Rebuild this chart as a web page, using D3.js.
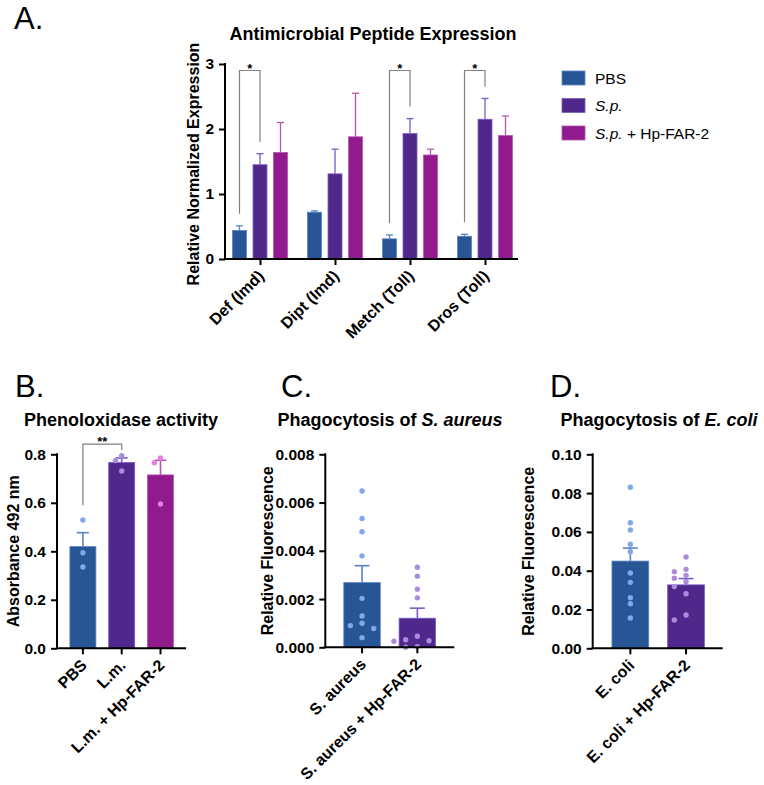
<!DOCTYPE html>
<html>
<head>
<meta charset="utf-8">
<script src="https://cdn.jsdelivr.net/npm/d3@7"></script>
<style>
body{margin:0;background:#fff;}
text{font-family:"Liberation Sans",Arial,Helvetica,sans-serif;}
</style>
</head>
<body>
<svg id="fig" width="764" height="785"></svg>
<script>
// ---- panel A data
var amp_groups = ["Def (Imd)", "Dipt (Imd)", "Metch (Toll)", "Dros (Toll)"];
var amp_series = ["PBS", "<i>S.p.</i>", "<i>S.p.</i> + Hp-FAR-2"];
var amp_pbs = [0.44, 0.72, 0.31, 0.35];
var amp_pbs_sem = [0.07, 0.02, 0.06, 0.03];
var amp_sp = [1.45, 1.31, 1.93, 2.15];
var amp_sp_sem = [0.17, 0.38, 0.23, 0.32];
var amp_far = [1.64, 1.88, 1.60, 1.90];
var amp_far_sem = [0.46, 0.67, 0.09, 0.30];
var amp_ticks = [0, 1, 2, 3];
var amp_sig = ["Def (Imd)", "Metch (Toll)", "Dros (Toll)"]; // PBS vs S.p., *

// ---- panel B data
var po_cats = ["PBS", "L.m.", "L.m. + Hp-FAR-2"];
var po_pbs = [0.529, 0.394, 0.335];
var po_lm = [0.794, 0.774, 0.731];
var po_far = [0.785, 0.765, 0.595];
var po_ticks = [0, 0.2, 0.4, 0.6, 0.8];

// ---- panel C data
var sa_cats = ["S. aureus", "S. aureus + Hp-FAR-2"];
var sa_ctrl = [0.00648, 0.00534, 0.00479, 0.00379, 0.00203, 0.00130, 0.00100, 0.00090, 0.00078, 0.00040];
var sa_far = [0.00332, 0.00295, 0.00241, 0.00205, 0.00046, 0.00031, 0.00027, 0.00025, 0.00003, 0.0];
var sa_ticks = [0, 0.002, 0.004, 0.006, 0.008];

// ---- panel D data
var ec_cats = ["E. coli", "E. coli + Hp-FAR-2"];
var ec_ctrl = [0.083, 0.0647, 0.061, 0.0536, 0.0498, 0.0388, 0.034, 0.0261, 0.023, 0.0156];
var ec_far = [0.0471, 0.0407, 0.0395, 0.0376, 0.0361, 0.0343, 0.0318, 0.0281, 0.0172, 0.0146];
var ec_ticks = [0, 0.02, 0.04, 0.06, 0.08, 0.10];

var fill_cols = ["#285596", "#50288c", "#911a8c"];
var err_cols = ["#5a84c6", "#7b5cc4", "#b456b0"];
var dot_cols = ["#80a7e6", "#a98cdc", "#e47fe0"];

var svg = d3.select("#fig");

// text with <i>..</i> parts
function rich_text(sel, str){
	str.split(/(<i>.*?<\/i>)/).forEach(function(part){
		if(!part) return;
		var it = part.indexOf("<i>") === 0;
		sel.append("tspan")
			.attr("font-style", it ? "italic" : null)
			.text(it ? part.slice(3, -4) : part);
	});
}

function sem(arr){
	return d3.deviation(arr) / Math.sqrt(arr.length);
}

function style_axis(g){
	g.selectAll("path.domain").remove();
	g.selectAll(".tick line").attr("stroke", "#000").attr("stroke-width", 2);
	g.selectAll(".tick text")
		.attr("font-size", 15.5).attr("font-weight", "bold").attr("fill", "#000");
}

function letter(txt, x, y){
	svg.append("text").attr("x", x).attr("y", y)
		.attr("font-size", 31).text(txt);
}

function ylabel(txt, x, yc){
	svg.append("text")
		.attr("transform", "translate(" + x + "," + yc + ") rotate(-90)")
		.attr("text-anchor", "middle")
		.attr("font-size", 16).attr("font-weight", "bold")
		.text(txt);
}

function xlabels(g, scale, cats, y0, offs){
	cats.forEach(function(c){
		var cx = scale(c) + (offs || 0);
		g.append("text")
			.attr("transform", "translate(" + (cx + 1) + "," + (y0 + 14) + ") rotate(-45)")
			.attr("text-anchor", "end")
			.attr("dy", "0.35em")
			.attr("font-size", 16).attr("font-weight", "bold")
			.text(c);
	});
}

function bracket(x1, x2, ytop, yl, yr, lab){
	svg.append("path")
		.attr("d", "M" + x1 + "," + yl + "V" + ytop + "H" + x2 + "V" + yr)
		.attr("fill", "none").attr("stroke", "#808080").attr("stroke-width", 1.2);
	svg.append("text").attr("x", (x1 + x2) / 2).attr("y", ytop + 2)
		.attr("text-anchor", "middle").attr("font-size", 13).attr("font-weight", "bold")
		.text(lab);
}

// ================= Panel A =================
(function(){
	var x0 = 225, x1 = 518;
	var y = d3.scaleLinear().domain([0, 3]).range([259, 64]);
	var gx = d3.scalePoint().domain(amp_groups).range([260, 485]);
	var inner = d3.scaleBand().domain(amp_series).range([-27.5, 27.5]).paddingInner(0.317);
	var means = [amp_pbs, amp_sp, amp_far];
	var sems = [amp_pbs_sem, amp_sp_sem, amp_far_sem];

	letter("A.", 14, 29);
	svg.append("text").attr("x", 373).attr("y", 40).attr("text-anchor", "middle")
		.attr("font-size", 18).attr("font-weight", "bold")
		.text("Antimicrobial Peptide Expression");

	var ya = svg.append("g").attr("transform", "translate(" + x0 + ",0)")
		.call(d3.axisLeft(y).tickValues(amp_ticks).tickSize(6).tickPadding(5).tickSizeOuter(0).tickFormat(d3.format("d")));
	style_axis(ya);
	ylabel("Relative Normalized Expression", 199, 164);

	amp_series.forEach(function(s, si){
		var g = svg.append("g");
		amp_groups.forEach(function(grp, gi){
			var bx = gx(grp) + inner(s);
			var cx = bx + inner.bandwidth() / 2;
			var top = y(means[si][gi] + sems[si][gi]);
			g.append("line").attr("x1", cx).attr("x2", cx)
				.attr("y1", y(means[si][gi])).attr("y2", top)
				.attr("stroke", err_cols[si]).attr("stroke-width", 1.3);
			g.append("line").attr("x1", cx - 3.5).attr("x2", cx + 3.5)
				.attr("y1", top).attr("y2", top)
				.attr("stroke", err_cols[si]).attr("stroke-width", 1.3);
			g.append("rect").attr("x", bx).attr("width", inner.bandwidth())
				.attr("y", y(means[si][gi])).attr("height", y(0) - y(means[si][gi]))
				.attr("fill", fill_cols[si]).attr("stroke", err_cols[si]).attr("stroke-width", 0.8);
		});
	});

	// x axis
	svg.append("line").attr("x1", x0 - 1).attr("x2", x1).attr("y1", y(0)).attr("y2", y(0))
		.attr("stroke", "#000").attr("stroke-width", 2);
	svg.append("line").attr("x1", x0).attr("x2", x0).attr("y1", y(3) - 1).attr("y2", y(0))
		.attr("stroke", "#000").attr("stroke-width", 2);
	var xa = svg.append("g").attr("transform", "translate(0," + y(0) + ")")
		.call(d3.axisBottom(gx).tickSize(6).tickSizeOuter(0).tickFormat(""));
	style_axis(xa);
	xlabels(svg.append("g"), gx, amp_groups, y(0));

	amp_sig.forEach(function(grp){
		var gi = amp_groups.indexOf(grp);
		var xa1 = gx(grp) + inner(amp_series[0]) + inner.bandwidth() / 2;
		var xa2 = gx(grp) + inner(amp_series[1]) + inner.bandwidth() / 2;
		bracket(xa1, xa2, y(2.9),
			y(amp_pbs[gi] + amp_pbs_sem[gi]) - 12,
			y(amp_sp[gi] + amp_sp_sem[gi]) - 12, "*");
	});

	// legend
	var lg = svg.append("g").attr("transform", "translate(562,71)");
	amp_series.forEach(function(s, i){
		var row = lg.append("g").attr("transform", "translate(0," + (i * 27.5) + ")");
		row.append("rect").attr("width", 23).attr("height", 14)
			.attr("fill", fill_cols[i]).attr("stroke", err_cols[i]).attr("stroke-width", 0.8);
		rich_text(row.append("text").attr("x", 33).attr("y", 12.5).attr("font-size", 15.5), s);
	});
})();

// ================= Panels B, C, D =================
function dot_panel(o){
	var y = d3.scaleLinear().domain([0, o.ymax]).range([o.y0, o.y1]);
	var x = d3.scaleBand().domain(o.cats).range(o.xr).paddingInner(o.pad).paddingOuter(o.pad / 2);
	var bw = x.bandwidth();

	letter(o.letter, o.lx, 397);
	rich_text(svg.append("text").attr("x", o.tx).attr("y", 426).attr("text-anchor", "middle")
		.attr("font-size", 18).attr("font-weight", "bold"), o.title);

	var ya = svg.append("g").attr("transform", "translate(" + o.x0 + ",0)")
		.call(d3.axisLeft(y).tickValues(o.ticks).tickSize(6).tickPadding(5).tickSizeOuter(0).tickFormat(d3.format(o.fmt)));
	style_axis(ya);
	ylabel(o.ylab, o.ylx, (o.y0 + o.y1) / 2);

	o.cats.forEach(function(c, i){
		var vals = o.dots[i];
		var m = d3.mean(vals), top = y(m + sem(vals));
		var cx = x(c) + bw / 2;
		svg.append("rect").attr("x", x(c)).attr("width", bw)
			.attr("y", y(m)).attr("height", y(0) - y(m))
			.attr("fill", fill_cols[i]).attr("stroke", err_cols[i]).attr("stroke-width", 0.8);
		svg.append("line").attr("x1", cx).attr("x2", cx).attr("y1", y(m)).attr("y2", top)
			.attr("stroke", err_cols[i]).attr("stroke-width", 1.6);
		svg.append("line").attr("x1", cx - o.cap).attr("x2", cx + o.cap).attr("y1", top).attr("y2", top)
			.attr("stroke", err_cols[i]).attr("stroke-width", 1.6);

		// simple column swarm for overlapping dots
		var placed = [];
		vals.slice().sort(d3.descending).forEach(function(v){
			var py = y(v), k, cand = [0, -1, 1, -2, 2];
			for(k = 0; k < cand.length; k++){
				var hit = placed.some(function(p){ return p.c === cand[k] && Math.abs(p.y - py) < 5.8; });
				if(!hit) break;
			}
			placed.push({c: cand[k], y: py});
			svg.append("circle").attr("cx", cx + cand[k] * o.step).attr("cy", py).attr("r", 2.7)
				.attr("fill", dot_cols[i]);
		});
	});

	svg.append("line").attr("x1", o.x0).attr("x2", o.x0).attr("y1", o.y1 - 1).attr("y2", o.y0)
		.attr("stroke", "#000").attr("stroke-width", 2);
	svg.append("line").attr("x1", o.x0 - 1).attr("x2", o.x1).attr("y1", o.y0).attr("y2", o.y0)
		.attr("stroke", "#000").attr("stroke-width", 2);
	var xa = svg.append("g").attr("transform", "translate(0," + o.y0 + ")")
		.call(d3.axisBottom(x).tickSize(6).tickSizeOuter(0).tickFormat(""));
	style_axis(xa);
	xlabels(svg.append("g"), x, o.cats, o.y0, bw / 2);

	if(o.sig){
		var a = o.dots[0], b = o.dots[1];
		var ytop = y(o.sig.at);
		var hi = function(v){ return Math.min(y(d3.max(v)) - 2.7, y(d3.mean(v) + sem(v))); };
		bracket(x(o.cats[0]) + bw / 2, x(o.cats[1]) + bw / 2, ytop,
			Math.max(ytop + 6, hi(a) - 12), Math.max(ytop + 6, hi(b) - 12), o.sig.label);
	}
}

dot_panel({
	letter: "B.", lx: 15, title: "Phenoloxidase activity", tx: 121,
	cats: po_cats, dots: [po_pbs, po_lm, po_far],
	ymax: 0.8, ticks: po_ticks, fmt: ".1f", y0: 648.3, y1: 454.3,
	x0: 57, x1: 186, xr: [63.5, 179.9], pad: 0.33, cap: 6, step: 6.2,
	ylab: "Absorbance 492 nm", ylx: 19,
	sig: {at: 0.842, label: "**"}
});

dot_panel({
	letter: "C.", lx: 281, title: "Phagocytosis of <i>S. aureus</i>", tx: 390,
	cats: sa_cats, dots: [sa_ctrl, sa_far],
	ymax: 0.008, ticks: sa_ticks, fmt: ".3f", y0: 647.3, y1: 454.3,
	x0: 325.3, x1: 454.3, xr: [334.4, 445], pad: 0.34, cap: 7.5, step: 11.7,
	ylab: "Relative Fluorescence", ylx: 273
});

dot_panel({
	letter: "D.", lx: 550, title: "Phagocytosis of <i>E. coli</i>", tx: 659,
	cats: ec_cats, dots: [ec_ctrl, ec_far],
	ymax: 0.1, ticks: ec_ticks, fmt: ".2f", y0: 648.3, y1: 454.3,
	x0: 592.7, x1: 722.7, xr: [602.5, 713.9], pad: 0.34, cap: 7.5, step: 11.7,
	ylab: "Relative Fluorescence", ylx: 534
});
</script>
</body>
</html>
